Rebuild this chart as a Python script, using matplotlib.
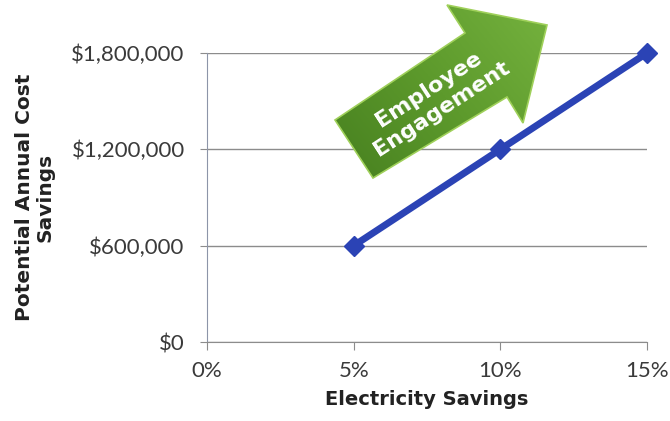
import numpy as np
import matplotlib.pyplot as plt
from matplotlib.patches import Polygon
from matplotlib.colors import LinearSegmentedColormap
from matplotlib.ticker import FuncFormatter

# data
savings_pct = [5, 10, 15]
cost_savings = [600000, 1200000, 1800000]
x_ticks = [0, 5, 10, 15]
y_ticks = [0, 600000, 1200000, 1800000]

fig = plt.figure(figsize=(6.7, 4.21), dpi=100)
ax = fig.add_axes([0.309, 0.1876, 0.6567, 0.6865])

ax.set_xlim(0, 15)
ax.set_ylim(0, 1800000)
ax.set_xticks(x_ticks)
ax.set_yticks(y_ticks)
ax.xaxis.set_major_formatter(FuncFormatter(lambda v, p: f"{v:.0f}%"))
ax.yaxis.set_major_formatter(FuncFormatter(lambda v, p: f"${v:,.0f}"))

ax.grid(axis='y', color='#8c8c8c', linewidth=1.0)
ax.set_axisbelow(True)
for side in ['top', 'right']:
    ax.spines[side].set_visible(False)
ax.spines['left'].set_color('#8d95a8')
ax.spines['bottom'].set_color('#8c8c8c')
ax.tick_params(axis='y', length=5, color='#8c8c8c', pad=11,
               labelsize=16, labelcolor='#3a3a3a')
ax.tick_params(axis='x', length=6, color='#8c8c8c', pad=8,
               labelsize=16, labelcolor='#3a3a3a')
for lab in ax.get_xticklabels() + ax.get_yticklabels():
    lab.set_family('Lato')

ax.plot(savings_pct, cost_savings, color='#2b43b5', linewidth=5,
        marker='D', markersize=10, clip_on=False, zorder=5)

ax.set_xlabel('Electricity Savings', fontsize=14, fontweight='bold',
              color='#222222', labelpad=6)
ax.set_ylabel('Potential Annual Cost\nSavings', fontsize=14.5,
              fontweight='bold', color='#222222', labelpad=12,
              linespacing=1.1)

# overlay in pixel units for the "Employee Engagement" arrow
ov = fig.add_axes([0, 0, 1, 1], zorder=10)
ov.set_xlim(0, 670)
ov.set_ylim(421, 0)
ov.axis('off')
ov.patch.set_alpha(0)

arrow_pts = [(335, 120), (465, 33), (447, 5), (547, 25),
             (523, 123), (507, 97), (373, 178)]
arrow = Polygon(arrow_pts, closed=True, facecolor='none',
                edgecolor='#9fd05a', linewidth=1.2, zorder=3)
ov.add_patch(arrow)

green = LinearSegmentedColormap.from_list('grn', ['#467f1f', '#5d9a2c', '#76b33f'])
gx, gy = np.meshgrid(np.linspace(0, 1, 200), np.linspace(0, 1, 200))
grad = gx * 0.6 + (1 - gy) * 0.4
img = ov.imshow(grad, cmap=green, extent=(330, 552, 182, 0),
                origin='upper', aspect='auto', zorder=2)
img.set_clip_path(arrow)

ov.text(435, 99, 'Employee\nEngagement', rotation=33, ha='center',
        va='center', multialignment='center', color='white',
        fontsize=16, fontweight='bold', linespacing=1.2, zorder=4)

fig.savefig('out.png', dpi=100)
